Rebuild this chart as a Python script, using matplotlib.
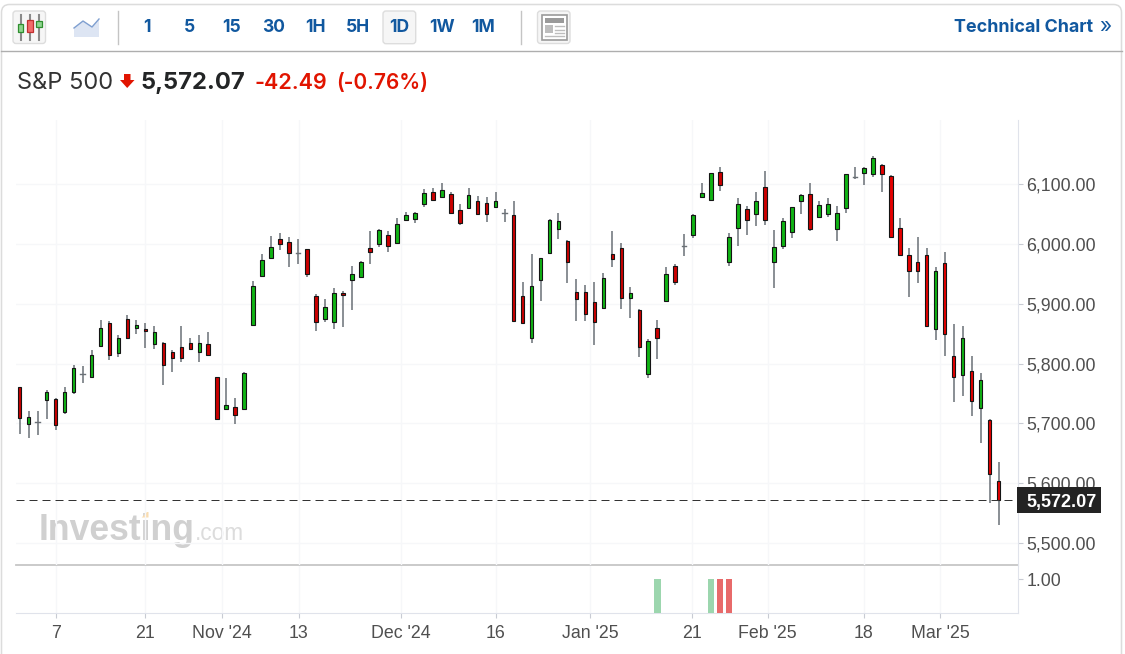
import matplotlib
matplotlib.use("Agg")
import matplotlib.pyplot as plt
from matplotlib.patches import FancyBboxPatch, Rectangle, Polygon
from matplotlib.transforms import blended_transform_factory

opens = [5760,5699,5702,5739,5740,5719,5752,5782,5777,5829,
         5868,5817,5875,5859,5858,5832,5835,5820,5828,5835,
         5819,5832,5777,5724,5727,5724,5864,5947,5977,6008,
         6003,5985,5991,5913,5874,5869,5918,5939,5944,5993,
         5999,6015,6002,6039,6042,6067,6087,6079,6083,6057,
         6059,6072,6068,6062,6051,6048,5913,5842,5939,5984,
         6024,6005,5920,5920,5902,5892,5983,5993,5909,5890,
         5782,5860,5904,5963,5997,6014,6079,6074,6120,5969,
         6027,6058,6049,6095,5969,5996,6019,6072,6083,6044,
         6049,6024,6059,6112,6119,6117,6132,6113,6027,5982,
         5970,5982,5857,5968,5812,5781,5787,5726,5706,5603]
closes = [5709,5710,5702,5753,5697,5753,5793,5782,5815,5860,
          5814,5843,5842,5865,5854,5853,5797,5809,5809,5824,
          5835,5814,5707,5730,5714,5785,5930,5973,5995,5999,
          5984,5985,5949,5869,5895,5917,5914,5950,5970,5987,
          6023,5997,6033,6048,6051,6085,6074,6090,6052,6034,
          6082,6049,6049,6072,6051,5871,5867,5930,5976,6040,
          6038,5969,5907,5882,5869,5943,5974,5909,5918,5827,
          5838,5842,5950,5937,5997,6048,6085,6118,6099,6012,
          6067,6039,6071,6039,5995,6038,6061,6082,6024,6065,
          6067,6052,6116,6112,6127,6143,6117,6012,5981,5954,
          5954,5862,5955,5849,5778,5842,5738,5772,5615,5572.07]
highs = [5761,5721,5721,5756,5742,5761,5798,5796,5823,5873,
         5871,5848,5881,5873,5868,5863,5836,5822,5863,5843,
         5848,5853,5778,5776,5743,5786,5938,5983,6013,6018,
         6011,6008,5992,5916,5908,5926,5921,5963,5972,6021,
         6024,6021,6043,6053,6053,6091,6093,6101,6087,6066,
         6093,6080,6078,6086,6058,6071,5936,5983,5977,6041,
         6051,6006,5941,5931,5936,5951,6021,6001,5928,5891,
         5841,5873,5961,5966,6016,6050,6101,6118,6128,6018,
         6076,6063,6086,6121,6023,6043,6062,6083,6101,6072,
         6076,6063,6116,6128,6128,6146,6133,6115,6043,5993,
         6011,5993,5961,5986,5866,5863,5812,5784,5707,5636]
lows = [5683,5676,5681,5707,5689,5716,5749,5767,5776,5829,
        5806,5811,5841,5849,5826,5824,5764,5786,5802,5824,
        5803,5814,5706,5724,5699,5724,5864,5946,5976,5989,
        5961,5966,5944,5854,5869,5857,5861,5889,5944,5966,
        5994,5986,6001,6038,6034,6061,6074,6079,6049,6031,
        6058,6049,6036,6059,6036,5870,5866,5834,5904,5984,
        6008,5934,5871,5871,5831,5891,5961,5891,5876,5811,
        5776,5808,5904,5932,5979,6009,6077,6074,6089,5963,
        5997,6014,6029,6031,5927,5991,6009,6049,6022,6044,
        6044,6004,6052,6109,6099,6111,6087,6009,5979,5911,
        5934,5861,5839,5813,5735,5745,5712,5667,5567,5531]

price_ticks = [5500, 5600, 5700, 5800, 5900, 6000, 6100]
date_ticks = [4, 14, 22.55, 31.1, 42.46, 53.04, 63.5, 74.86, 83.3, 94, 102.5]
date_labels = ["7", "21", "Nov '24", "13", "Dec '24", "16", "Jan '25", "21", "Feb '25", "18", "Mar '25"]

volume_idx = [71, 77, 78, 79]
volume_val = [1.0, 1.0, 1.0, 1.0]
volume_up = [True, True, False, False]

intervals = ["1", "5", "15", "30", "1H", "5H", "1D", "1W", "1M"]
name = "S&P 500"
last_text = "5,572.07"
change_text = "-42.49"
pct_text = "(-0.76%)"

W, H = 1125, 654
BLUE = "#11589f"
RED = "#e11400"
GRID = "#f6f7f9"
AXIS = "#e0e3eb"
TXT = "#4f4f4f"
UP = "#10b414"
DOWN = "#cc0000"
WICK = "#6a7076"
SANS = "Liberation Sans"
INTER = "Inter"


def box(l, t, r, b):
    return [l / W, 1 - b / H, (r - l) / W, (b - t) / H]


fig = plt.figure(figsize=(W / 100, H / 100), dpi=100, facecolor="white")

# page chrome, in pixel coordinates
bg = fig.add_axes([0, 0, 1, 1], zorder=0)
bg.set_xlim(0, W)
bg.set_ylim(H, 0)
bg.axis("off")
bg.add_patch(FancyBboxPatch((1.5, 4.5), 1120, 720, boxstyle="round,pad=0,rounding_size=8",
                            fc="white", ec="#dcdcdc", lw=1.1))
bg.plot([1, 1122], [50.5, 50.5], color="#aeaeae", lw=1.0)
for x in (118, 521):
    bg.plot([x, x], [11, 44], color="#c4c4c4", lw=1.0)

# candle icon
bg.add_patch(FancyBboxPatch((13, 11), 32.5, 32.5, boxstyle="round,pad=0,rounding_size=3",
                            fc="#f6f6f6", ec="#dddddd", lw=1))
for x, t, b, c, e in ((20.7, 24, 32, "#8fd48f", "#2f8f2f"), (30, 20, 32, "#f26b6b", "#c03030"),
                      (39, 21, 27, "#8fd48f", "#2f8f2f")):
    bg.plot([x, x], [15, 40], color="#8a8a8a", lw=1.5)
    bg.add_patch(Rectangle((x - 2.6, t), 5.2, b - t, fc=c, ec=e, lw=0.9, zorder=3))
# line icon
bg.add_patch(Polygon([(74, 28), (83, 21), (92, 27), (99, 19), (99, 37), (74, 37)],
                     fc="#dde5f3", ec="none"))
bg.plot([74, 83, 92, 99], [28, 21, 27, 19], color="#7f9fd0", lw=1.0)
# layout icon
bg.add_patch(FancyBboxPatch((537.5, 11), 32.5, 32.5, boxstyle="round,pad=0,rounding_size=3",
                            fc="#f6f6f6", ec="#dddddd", lw=1))
bg.add_patch(Rectangle((541.5, 14.5), 25, 25, fc="white", ec="#9a9a9a", lw=1.2))
bg.add_patch(Rectangle((544.5, 18), 19, 4.5, fc="#9a9a9a", ec="none"))
bg.add_patch(Rectangle((544.5, 25), 8.5, 8, fc="#bdbdbd", ec="none"))
for y in (26, 29.5, 32.5):
    bg.plot([554.5, 563.5], [y, y], color="#bdbdbd", lw=1)
bg.plot([544.5, 563.5], [36, 36], color="#bdbdbd", lw=1)

# 1D button
bg.add_patch(FancyBboxPatch((383, 11), 32.7, 32.7, boxstyle="round,pad=0,rounding_size=3",
                            fc="#f6f6f6", ec="#dddddd", lw=1))
for label, x in zip(intervals, (147, 189, 231.5, 273.5, 315.5, 357.5, 399.5, 441.5, 483.5)):
    bg.text(x, 27.5, label, color=BLUE, fontsize=12.6, fontweight="bold", family=INTER,
            ha="center", va="center")
bg.text(954, 27.5, "Technical Chart", color=BLUE, fontsize=12.9, fontweight="bold",
        family=INTER, ha="left", va="center")
bg.text(1105, 27, "»", color=BLUE, fontsize=15, family=INTER, ha="center", va="center")

bg.text(17, 83, name, color="#333333", fontsize=17, family=INTER, ha="left", va="center")
bg.add_patch(Polygon([(124, 74), (130.5, 74), (130.5, 80), (134.5, 80), (127.2, 88), (120, 80), (124, 80)],
                     fc=RED, ec="none"))
bg.text(140.5, 83, last_text, color="#232526", fontsize=17.1, fontweight="bold", family=INTER,
        ha="left", va="center")
bg.text(255, 83, change_text, color=RED, fontsize=15.5, fontweight="semibold", family=INTER,
        ha="left", va="center")
bg.text(336, 83, pct_text, color=RED, fontsize=15, fontweight="semibold", family=INTER,
        ha="left", va="center")

# watermark
bg.text(39, 540, "Investing", color="#d0d0d0", fontsize=25.6, fontweight="bold", family=SANS,
        ha="left", va="baseline", zorder=5)
bg.text(194.5, 540, ".com", color="#dcdcdc", fontsize=16.3, family=SANS, ha="left", va="baseline",
        zorder=5)
bg.add_patch(Polygon([(141.7, 517.5), (147, 512), (148.5, 512), (148.5, 517.5)],
                     fc="#f9dcb0", ec="none", zorder=6))

# price panel
ax = fig.add_axes(box(16, 120, 1018, 565), zorder=2)
ax.patch.set_alpha(0)
xs = list(range(len(opens)))
ax.set_xlim(-0.412, 111.17)
ax.set_ylim(5463.5, 6206.8)
ax.grid(True, color=GRID, lw=1.0)
ax.set_axisbelow(True)
ax.vlines(xs, lows, highs, color=WICK, lw=1.1, zorder=3)
for x, o, c in zip(xs, opens, closes):
    if o == c:
        ax.plot([x - 0.25, x + 0.25], [o, o], color=WICK, lw=1.0, zorder=4)
    else:
        late = x >= 96
        face = UP if c > o else ("#e60000" if late else DOWN)
        ax.bar(x, abs(c - o), bottom=min(o, c), width=0.4, color=face, edgecolor="#141414",
               linewidth=0.8, zorder=4)
for side in ("top", "left", "bottom"):
    ax.spines[side].set_visible(False)
ax.spines["right"].set_color(AXIS)
ax.yaxis.tick_right()
ax.set_yticks(price_ticks)
ax.set_yticklabels([f"{p:,.2f}" for p in price_ticks], family=SANS, fontsize=12.8, color=TXT)
ax.tick_params(axis="y", length=3.4, width=0.8, color="#c8cbd3", pad=2.6)
ax.set_xticks(date_ticks)
ax.tick_params(axis="x", length=0, labelbottom=False)

# last price line and tag
last = closes[-1]
ax.axhline(last, color="#333333", lw=0.72, ls=(0, (8, 5)), zorder=5)
tr = blended_transform_factory(ax.transAxes, ax.transData)
ax.add_patch(Rectangle((0.9995, last - 22.2), 84 / 1002, 44.5, transform=tr, fc="#232323",
                       ec="none", clip_on=False, zorder=20))
ax.text(1010.5 / 1002, last, f"{last:,.2f}", transform=tr, color="white", fontsize=13.0, family=SANS,
        fontweight="bold", ha="left", va="center_baseline", zorder=21, clip_on=False)

# volume panel
vx = fig.add_axes(box(16, 565, 1018, 612.7), zorder=1, sharex=ax)
vx.patch.set_alpha(0)
vx.set_ylim(0, 1.428)
vx.bar(volume_idx, volume_val, width=0.72,
       color=["#9cd6ae" if u else "#e86a6a" for u in volume_up], zorder=3)
vx.grid(True, axis="x", color=GRID, lw=1.0)
vx.set_axisbelow(True)
vx.spines["top"].set_color("#c6c6c6")
vx.spines["top"].set_linewidth(1.3)
vx.spines["left"].set_visible(False)
vx.spines["right"].set_color(AXIS)
vx.spines["bottom"].set_color(AXIS)
vx.yaxis.tick_right()
vx.set_yticks([1.0])
vx.set_yticklabels(["1.00"], family=SANS, fontsize=12.8, color=TXT)
vx.tick_params(axis="y", length=3.4, width=0.8, color="#c8cbd3", pad=2.6)
vx.set_xticks(date_ticks)
vx.set_xticklabels(date_labels, family=SANS, fontsize=12.8, color=TXT)
vx.tick_params(axis="x", length=3.4, width=0.8, color="#c8cbd3", pad=5.5)

fig.savefig("out.png", dpi=100, facecolor="white")
